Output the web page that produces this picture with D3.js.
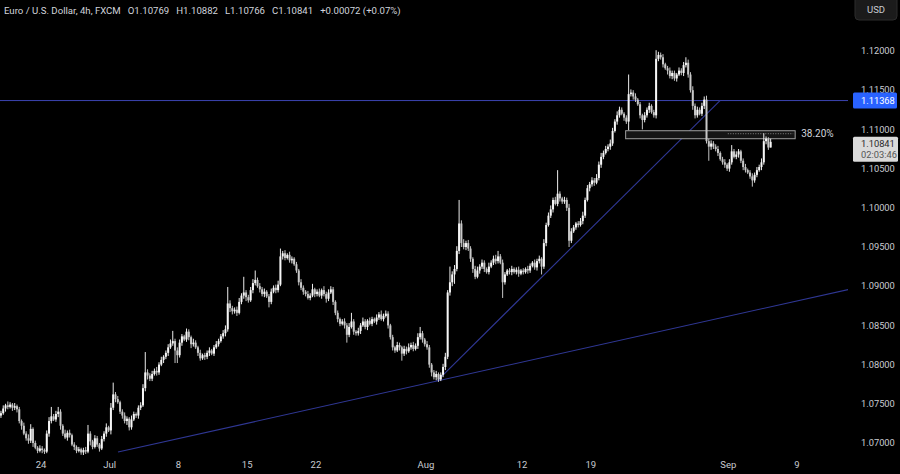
<!DOCTYPE html>
<html><head><meta charset="utf-8">
<script src="https://cdnjs.cloudflare.com/ajax/libs/d3/7.8.5/d3.min.js"></script>
<style>
html,body{margin:0;padding:0;background:#000;}
svg{display:block;}
text{font-family:Roboto,"Liberation Sans",Arial,sans-serif;}
</style></head>
<body><svg id="c" width="900" height="474"></svg>
<script>
// ---------- DATA ----------
const title = "Euro / U.S. Dollar, 4h, FXCM";
const ohlcText = ["O1.10769", "H1.10882", "L1.10766", "C1.10841", "+0.00072 (+0.07%)"];
const firstOpen = 1.0735;
// 4h closes, 6 candles per trading day (Jun 19 → Sep 5)
const closes = [
1.0738,1.0744,1.0748,1.0746,1.0749,1.0745,
1.0747,1.0743,1.0728,1.0722,1.0712,1.0706,
1.0703,1.0718,1.0700,1.0694,1.0690,1.0693,
1.0691,1.0689,1.0712,1.0728,1.0734,1.0730,
1.0737,1.0740,1.0722,1.0712,1.0707,1.0713,
1.0710,1.0698,1.0695,1.0690,1.0692,1.0688,
1.0691,1.0689,1.0712,1.0702,1.0695,1.0706,
1.0698,1.0693,1.0705,1.0712,1.0720,1.0716,
1.0745,1.0762,1.0756,1.0752,1.0740,1.0735,
1.0728,1.0731,1.0720,1.0730,1.0737,1.0735,
1.0745,1.0748,1.0770,1.0790,1.0786,1.0782,
1.0788,1.0792,1.0790,1.0800,1.0806,1.0810,
1.0815,1.0822,1.0827,1.0830,1.0818,1.0812,
1.0828,1.0836,1.0832,1.0842,1.0835,1.0826,
1.0828,1.0822,1.0815,1.0808,1.0812,1.0810,
1.0815,1.0818,1.0814,1.0822,1.0826,1.0830,
1.0836,1.0840,1.0845,1.0878,1.0872,1.0868,
1.0870,1.0866,1.0880,1.0888,1.0892,1.0886,
1.0882,1.0895,1.0904,1.0908,1.0900,1.0896,
1.0890,1.0893,1.0887,1.0880,1.0893,1.0898,
1.0895,1.0902,1.0938,1.0942,1.0936,1.0940,
1.0933,1.0935,1.0928,1.0920,1.0905,1.0898,
1.0893,1.0890,1.0885,1.0888,1.0896,1.0890,
1.0893,1.0888,1.0895,1.0890,1.0884,1.0892,
1.0896,1.0880,1.0866,1.0858,1.0852,1.0855,
1.0850,1.0838,1.0848,1.0855,1.0842,1.0840,
1.0843,1.0850,1.0855,1.0848,1.0856,1.0852,
1.0858,1.0855,1.0860,1.0864,1.0858,1.0862,
1.0865,1.0850,1.0835,1.0822,1.0818,1.0825,
1.0822,1.0814,1.0820,1.0817,1.0822,1.0825,
1.0820,1.0824,1.0835,1.0840,1.0832,1.0826,
1.0822,1.0800,1.0790,1.0784,1.0788,1.0781,
1.0787,1.0797,1.0810,1.0892,1.0905,1.0915,
1.0922,1.0945,1.0980,1.0955,1.0950,1.0955,
1.0948,1.0935,1.0922,1.0912,1.0920,1.0925,
1.0930,1.0922,1.0918,1.0925,1.0930,1.0935,
1.0932,1.0938,1.0930,1.0905,1.0915,1.0920,
1.0918,1.0922,1.0918,1.0921,1.0916,1.0920,
1.0918,1.0922,1.0920,1.0926,1.0930,1.0924,
1.0932,1.0935,1.0925,1.0955,1.0978,1.0990,
1.0998,1.1010,1.1005,1.1018,1.1012,1.1008,
1.1010,1.1000,1.0958,1.0970,1.0975,1.0980,
1.0978,1.0983,1.0990,1.1010,1.1025,1.1030,
1.1035,1.1032,1.1038,1.1055,1.1065,1.1070,
1.1075,1.1078,1.1082,1.1098,1.1110,1.1118,
1.1125,1.1120,1.1115,1.1110,1.1145,1.1147,
1.1142,1.1138,1.1132,1.1118,1.1112,1.1118,
1.1125,1.1130,1.1122,1.1118,1.1190,1.1195,
1.1192,1.1183,1.1178,1.1175,1.1168,1.1172,
1.1165,1.1170,1.1175,1.1172,1.1182,1.1185,
1.1170,1.1150,1.1130,1.1118,1.1125,1.1120,
1.1130,1.1138,1.1085,1.1078,1.1082,1.1078,
1.1075,1.1070,1.1062,1.1058,1.1055,1.1050,
1.1058,1.1072,1.1065,1.1068,1.1072,1.1060,
1.1052,1.1048,1.1045,1.1040,1.1035,1.1042,
1.1048,1.1052,1.1058,1.1085,1.1088,1.10769,
1.10841];
// wick lengths in pips above the body / below the body
const upWickPips = [
3,4,2,5,3,2, 4,2,3,2,4,3, 5,6,2,3,2,4, 3,2,4,5,12,3, 4,6,3,2,5,3, 4,2,3,2,3,2,
3,4,11,3,2,4, 3,2,4,3,5,2, 6,15,3,4,2,3, 4,3,2,5,3,2, 3,4,5,26,4,3, 4,3,5,3,4,2,
3,4,5,13,3,4, 4,3,2,4,3,2, 5,3,2,4,2,3, 3,4,2,3,4,3, 3,4,5,21,4,3, 3,4,5,3,20,3,
3,4,5,12,3,4, 3,4,2,3,4,3, 4,5,10,3,4,2, 4,3,2,3,2,4, 3,2,4,3,7,2, 3,4,2,5,3,4,
4,3,2,3,2,3, 4,3,5,11,3,2, 4,3,5,3,2,4, 3,2,4,3,5,3, 4,3,2,3,2,4, 3,2,4,3,5,3,
4,3,5,8,3,2, 4,3,2,3,4,2, 3,4,5,3,20,4, 5,6,30,4,5,3, 4,3,2,4,5,3, 4,3,2,5,3,4,
5,7,3,4,3,2, 3,4,2,3,4,2, 3,2,4,3,2,4, 3,4,2,5,3,4, 5,3,4,30,3,2, 4,3,5,4,3,2,
3,4,5,3,4,3, 4,3,5,4,5,3, 4,3,5,4,3,5, 4,3,2,3,25,4, 3,4,2,3,2,4, 3,4,2,3,11,4,
3,4,2,3,4,3, 3,2,4,3,4,7, 4,3,5,3,4,3, 4,4,5,3,4,3, 3,4,2,3,4,2, 4,8,3,4,3,2,
3,4,2,3,4,3, 4,3,5,10,3,2, 4];
const downWickPips = [
3,2,4,3,2,4, 3,4,3,5,2,3, 4,3,5,2,3,2, 4,3,2,4,3,2, 3,4,5,3,2,4, 3,2,4,3,2,3,
4,3,2,5,3,2, 3,4,2,3,4,2, 5,3,4,2,3,4, 3,5,4,3,2,3, 4,3,2,4,5,3, 3,2,4,3,2,4,
3,4,2,3,16,10, 3,4,2,3,4,5, 3,2,4,3,2,4, 3,4,2,3,2,3, 2,3,4,3,5,4, 3,4,2,3,4,5,
3,2,4,3,2,4, 3,4,2,7,3,2, 4,3,2,4,3,2, 3,4,2,3,4,3, 4,3,2,3,2,4, 3,2,4,3,5,3,
2,4,3,4,3,2, 4,10,3,2,4,3, 3,4,2,3,4,2, 3,2,4,3,2,3, 2,4,3,4,3,2, 4,9,3,4,2,3,
3,2,4,3,4,3, 3,4,5,3,4,3, 2,3,4,3,4,5, 12,3,4,5,3,4, 3,4,5,3,2,4, 3,4,2,3,2,3,
4,3,2,20,3,2, 3,4,2,3,4,2, 3,2,4,3,2,3, 4,3,10,3,4,2, 3,4,2,3,4,3, 3,4,8,3,2,3,
3,2,4,3,2,4, 3,4,2,3,4,3, 2,3,4,3,2,4, 3,2,4,3,11,3, 4,3,2,4,12,3, 3,4,2,3,4,3,
3,4,2,5,3,4, 3,4,2,3,4,3, 4,3,5,4,3,2, 3,4,3,18,4,3, 3,4,2,3,4,3, 4,3,2,3,4,3,
4,3,2,3,8,3, 3,2,4,3,4,3, 0];
const candlesPerDay = 6;
const dateTickLabels = ["24", "Jul", "8", "15", "22", "Aug", "12", "19", "Sep", "9"];
const dateTickDays   = [3, 8, 13, 18, 23, 31, 38, 43, 53, 58];
const priceTicks = [1.07, 1.075, 1.08, 1.085, 1.09, 1.095, 1.10, 1.105, 1.11, 1.115, 1.12];
const resistanceLevel = 1.11368;
const lastPrice = 1.10841;
const countdown = "02:03:46";
const currency = "USD";
// drawings: [candle index, price]
const longTrend = [[51.6, 1.06885], [190.8, 1.0779]];
const steepTrend = [[190.8, 1.0779], [314.4, 1.11368]];
const fibZone = {startIdx: 273.2, endIdx: 347.2, top: 1.10983, bottom: 1.10881, dotted: 1.10945, dottedStart: 317.8, label: "38.20%"};

// ---------- BUILD ----------
const candles = closes.map((c, i) => {
  const o = i === 0 ? firstOpen : closes[i - 1];
  return {i, o, c, h: Math.max(o, c) + upWickPips[i] / 10000, l: Math.min(o, c) - downWickPips[i] / 10000};
});

const W = 900, H = 474, plotRight = 848, plotBottom = 455;
const svg = d3.select("#c");
svg.append("rect").attr("width", W).attr("height", H).attr("fill", "#000");

const x = d3.scaleLinear().domain([0, 58 * candlesPerDay]).range([-0.2, 797]);
const y = d3.scaleLinear().domain([1.07, 1.12]).range([443, 51]);

svg.append("clipPath").attr("id", "plot").append("rect")
  .attr("x", 0).attr("y", 0).attr("width", plotRight).attr("height", plotBottom);
const g = svg.append("g").attr("clip-path", "url(#plot)");

// horizontal resistance
g.append("line").attr("x1", 0).attr("x2", plotRight)
  .attr("y1", y(resistanceLevel)).attr("y2", y(resistanceLevel))
  .attr("stroke", "#3b44b0").attr("stroke-width", 1);

// trend lines
function extendLine(pts, toIdx) {
  const [[i0, p0], [i1, p1]] = pts;
  const s = (p1 - p0) / (i1 - i0);
  return [[i0, p0], [toIdx, p0 + s * (toIdx - i0)]];
}
const lt = extendLine(longTrend, 372);
g.append("line").attr("x1", x(lt[0][0])).attr("y1", y(lt[0][1]))
  .attr("x2", x(lt[1][0])).attr("y2", y(lt[1][1]))
  .attr("stroke", "#2f3794").attr("stroke-width", 1.1);
g.append("line").attr("x1", x(steepTrend[0][0])).attr("y1", y(steepTrend[0][1]))
  .attr("x2", x(steepTrend[1][0])).attr("y2", y(steepTrend[1][1]))
  .attr("stroke", "#2f3794").attr("stroke-width", 1.1);

// fib zone
g.append("rect").attr("x", x(fibZone.startIdx)).attr("y", y(fibZone.top))
  .attr("width", x(fibZone.endIdx) - x(fibZone.startIdx))
  .attr("height", y(fibZone.bottom) - y(fibZone.top))
  .attr("fill", "#151515").attr("stroke", "#a0a0a0").attr("stroke-width", 1);
g.append("line").attr("x1", x(fibZone.dottedStart)).attr("x2", x(fibZone.endIdx) - 2)
  .attr("y1", y(fibZone.dotted)).attr("y2", y(fibZone.dotted))
  .attr("stroke", "#8a8a8a").attr("stroke-width", 1).attr("stroke-dasharray", "1,1.5");

// candles
const cg = g.append("g");
const bw = 2;
cg.selectAll("line.w").data(candles).join("line").attr("class", "w")
  .attr("x1", d => x(d.i + 0.5)).attr("x2", d => x(d.i + 0.5))
  .attr("y1", d => y(d.h)).attr("y2", d => y(d.l))
  .attr("stroke", d => d.c >= d.o ? "#ececec" : "#c4c4c4").attr("stroke-width", 1);
cg.selectAll("rect.b").data(candles).join("rect").attr("class", "b")
  .attr("x", d => x(d.i + 0.5) - bw / 2).attr("width", bw)
  .attr("y", d => y(Math.max(d.o, d.c)))
  .attr("height", d => Math.max(0.9, Math.abs(y(d.o) - y(d.c))))
  .attr("fill", d => d.c >= d.o ? "#f6f6f6" : "#c8c8c8");

// fib label
svg.append("text").attr("x", x(fibZone.endIdx) + 6).attr("y", y(fibZone.dotted)).attr("dy", "0.35em")
  .attr("fill", "#d1d4dc").attr("font-size", 10).text(fibZone.label);

// price axis
const axisX = 861;
svg.selectAll("text.pt").data(priceTicks).join("text").attr("class", "pt")
  .attr("x", axisX).attr("y", d => y(d)).attr("dy", "0.35em")
  .attr("fill", "#c9cbd1").attr("font-size", 9.3).text(d => d.toFixed(5));

// resistance label
svg.append("rect").attr("x", 853).attr("y", y(resistanceLevel) - 8).attr("width", 44).attr("height", 16)
  .attr("rx", 1.5).attr("fill", "#2962ff");
svg.append("text").attr("x", axisX).attr("y", y(resistanceLevel)).attr("dy", "0.35em")
  .attr("fill", "#ffffff").attr("font-size", 9.3).text(resistanceLevel.toFixed(5));

// last price label
svg.append("rect").attr("x", 853).attr("y", y(lastPrice) - 5).attr("width", 45).attr("height", 25)
  .attr("rx", 1.5).attr("fill", "#dadada");
svg.append("text").attr("x", axisX).attr("y", y(lastPrice) + 2).attr("dy", "0.35em")
  .attr("fill", "#2a2a2a").attr("font-size", 9.3).text(lastPrice.toFixed(5));
svg.append("text").attr("x", axisX).attr("y", y(lastPrice) + 13).attr("dy", "0.35em")
  .attr("fill", "#555555").attr("font-size", 9.3).text(countdown);

// currency button
svg.append("rect").attr("x", 855).attr("y", -4).attr("width", 42).attr("height", 24)
  .attr("rx", 4).attr("fill", "#1b1b1b").attr("stroke", "#2c2c2c");
svg.append("text").attr("x", 876).attr("y", 10).attr("dy", "0.35em").attr("text-anchor", "middle")
  .attr("fill", "#c9cbd1").attr("font-size", 9.5).text(currency);

// date axis
svg.selectAll("text.dt").data(dateTickDays).join("text").attr("class", "dt")
  .attr("x", d => x(d * candlesPerDay)).attr("y", 465).attr("dy", "0.35em")
  .attr("text-anchor", "middle").attr("fill", "#c9cbd1").attr("font-size", 9.5)
  .text((d, k) => dateTickLabels[k]);

// header
const hdr = svg.append("text").attr("x", 4).attr("y", 11).attr("dy", "0.35em")
  .attr("fill", "#d1d4dc").attr("font-size", 9.6);
hdr.append("tspan").text(title);
ohlcText.forEach(t => hdr.append("tspan").attr("dx", 7).text(t));
</script></body></html>
